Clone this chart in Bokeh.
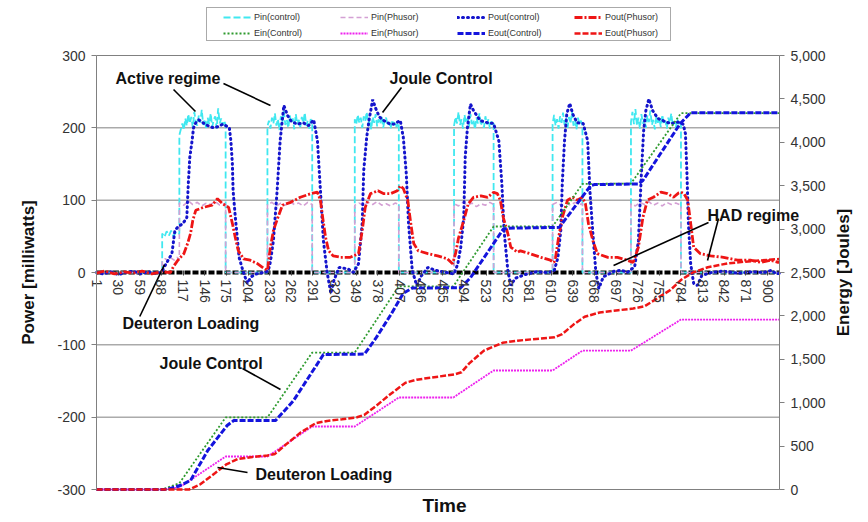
import math
from bokeh.plotting import figure
from bokeh.models import (Range1d, LinearAxis, FixedTicker, NumeralTickFormatter,
                          Legend, LegendItem, Label)
from bokeh.embed import file_html
from bokeh.resources import INLINE

FONT = "Liberation Sans"

# ---------------- data ----------------
x_ticks = [1, 30, 59, 88, 117, 146, 175, 204, 233, 262, 291, 320, 349, 378, 407, 436,
           465, 494, 523, 552, 581, 610, 639, 668, 697, 726, 755, 784, 813, 842, 871, 900]
power_ticks = [-300, -200, -100, 0, 100, 200, 300]
energy_ticks = [0, 500, 1000, 1500, 2000, 2500, 3000, 3500, 4000, 4500, 5000]
time_span = (1, 916)
power_span = (-300, 300)
energy_span = (0, 5000)

# Pin(control) [mW] (time, value)
pin_control = [
    (1, 0), (89, 0), (89, 54), (92, 49), (95, 57), (98, 51), (101, 58), (104, 50), (107, 55), (110, 52), (112, 54),
    (112, 190), (114, 198), (116, 206), (118, 197), (120, 213), (122, 203), (124, 219), (126, 206), (128, 215),
    (130, 200), (132, 222), (134, 208), (136, 203), (138, 217), (140, 207), (142, 225), (144, 204), (146, 212),
    (148, 198), (150, 214), (152, 205), (154, 220), (156, 201), (158, 211), (160, 216), (162, 199), (164, 227),
    (166, 206), (168, 213), (170, 203), (172, 210), (174, 204), (174, 0),
    (230, 0), (230, 202), (232, 210), (234, 199), (236, 214), (238, 206), (240, 220), (242, 203), (244, 212),
    (246, 197), (248, 216), (250, 208), (252, 223), (254, 204), (256, 211), (258, 200), (260, 217), (262, 206),
    (264, 213), (266, 198), (268, 219), (270, 205), (272, 211), (274, 201), (276, 215), (278, 207), (280, 221),
    (282, 203), (284, 210), (286, 199), (288, 212), (290, 206), (290, 0),
    (347, 0), (347, 212), (349, 205), (351, 218), (353, 207), (355, 214), (357, 200), (359, 216), (361, 209),
    (363, 222), (365, 204), (367, 211), (369, 198), (371, 215), (373, 207), (375, 219), (377, 202), (379, 212),
    (381, 205), (383, 217), (385, 200), (387, 210), (389, 214), (391, 203), (393, 208), (395, 199), (397, 211),
    (399, 204), (401, 209), (403, 201), (405, 207), (406, 203), (406, 0),
    (480, 0), (480, 203), (482, 215), (484, 206), (486, 222), (488, 204), (490, 212), (492, 199), (494, 218),
    (496, 207), (498, 213), (500, 201), (502, 219), (504, 205), (506, 211), (508, 198), (510, 214), (512, 206),
    (514, 220), (516, 203), (518, 210), (520, 200), (522, 216), (524, 205), (526, 212), (528, 199), (530, 209),
    (532, 204), (533, 207), (533, 0),
    (612, 0), (612, 205), (614, 218), (616, 203), (618, 212), (620, 199), (622, 216), (624, 207), (626, 221),
    (628, 204), (630, 213), (632, 200), (634, 215), (636, 206), (638, 222), (640, 203), (642, 211), (644, 198),
    (646, 214), (648, 205), (650, 210), (652, 202), (652, 0),
    (717, 0), (717, 208), (719, 222), (721, 205), (723, 226), (725, 203), (727, 214), (729, 199), (731, 219),
    (733, 206), (735, 212), (737, 200), (739, 217), (741, 208), (743, 224), (745, 204), (747, 211), (749, 198),
    (751, 215), (753, 207), (755, 213), (757, 201), (759, 218), (761, 205), (763, 210), (765, 199), (767, 214),
    (769, 206), (771, 220), (773, 203), (775, 209), (777, 200), (779, 212), (781, 205), (783, 210), (784, 204),
    (784, 0), (916, 0)]

# Pin(Phusor) [mW]
pin_phusor = [
    (1, 0), (89, 0), (89, 15), (93, 19), (97, 16), (101, 20), (105, 17), (109, 21), (112, 18),
    (112, 96), (118, 93), (124, 99), (130, 94), (136, 97), (142, 92), (148, 96), (154, 94), (160, 98),
    (166, 93), (172, 95), (174, 94), (174, 0),
    (230, 0), (230, 94), (236, 97), (242, 92), (248, 96), (254, 93), (260, 98), (266, 94), (272, 96),
    (278, 92), (284, 97), (290, 94), (290, 0),
    (347, 0), (347, 93), (353, 96), (359, 92), (365, 97), (371, 94), (377, 98), (383, 93), (389, 95),
    (395, 92), (401, 96), (406, 94), (406, 0),
    (480, 0), (480, 95), (486, 92), (492, 97), (498, 93), (504, 96), (510, 91), (516, 95), (522, 93),
    (528, 97), (533, 94), (533, 0),
    (612, 0), (612, 94), (618, 97), (624, 92), (630, 96), (636, 93), (642, 97), (648, 94), (652, 95), (652, 0),
    (717, 0), (717, 95), (723, 92), (729, 97), (735, 94), (741, 98), (747, 93), (753, 96), (759, 92),
    (765, 97), (771, 94), (777, 96), (784, 93), (784, 0), (916, 0)]

# Pout(control) [mW]
pout_control = [
    (1, 0), (10, -2), (20, 1), (30, -3), (40, 0), (50, 2), (60, -2), (70, 1), (80, -1), (88, 0), (92, 8),
    (97, 17), (102, 26), (106, 58), (110, 63), (113, 65), (117, 68), (122, 76), (124, 123), (126, 159),
    (129, 182), (131, 200), (134, 207), (138, 211), (145, 206), (152, 202), (158, 200), (165, 202), (170, 205),
    (174, 203), (179, 200), (181, 182), (183, 151), (184, 113), (187, 76), (190, 44), (192, 21), (197, 3),
    (203, -15), (208, -6), (215, -2), (225, 0), (231, 2), (234, 15), (238, 44), (243, 113), (247, 182),
    (252, 231), (257, 217), (262, 209), (270, 205), (278, 207), (285, 203), (292, 211), (297, 182), (301, 113),
    (305, 44), (310, 0), (315, -29), (319, -11), (326, 7), (338, 5), (345, 0), (352, 12), (357, 68), (359, 141),
    (363, 187), (366, 210), (371, 239), (375, 227), (380, 215), (386, 210), (393, 206), (399, 205), (408, 210),
    (412, 187), (416, 137), (419, 68), (424, 3), (430, -18), (436, -5), (445, 7), (455, 3), (470, 0), (480, -2),
    (485, 12), (489, 35), (493, 76), (495, 160), (498, 201), (502, 233), (506, 224), (515, 210), (525, 207),
    (533, 206), (540, 182), (544, 123), (547, 58), (552, 3), (556, -18), (562, -8), (575, -3), (590, 1),
    (605, 0), (614, 2), (619, 20), (623, 58), (625, 123), (628, 182), (631, 219), (635, 234), (639, 219),
    (645, 207), (653, 206), (659, 182), (662, 113), (666, 54), (670, 0), (674, -22), (680, -6), (695, 2),
    (705, 3), (712, 0), (722, 8), (727, 44), (731, 137), (734, 196), (737, 224), (741, 240), (746, 224),
    (753, 213), (762, 209), (770, 206), (780, 208), (787, 205), (790, 192), (792, 137), (794, 68), (797, 12),
    (801, -15), (806, -18), (812, -4), (825, 0), (840, 2), (860, -1), (880, 1), (895, 0), (905, 3), (912, -2),
    (916, -1)]

# Pout(Phusor) [mW]
pout_phusor = [
    (1, -1), (12, 2), (25, -2), (38, 1), (50, -1), (62, 2), (75, -2), (88, 1), (100, 0), (104, 8), (110, 17),
    (118, 26), (123, 40), (127, 54), (130, 72), (134, 86), (144, 90), (156, 93), (163, 102), (170, 95),
    (178, 90), (183, 68), (187, 48), (191, 30), (198, 19), (207, 17), (217, 12), (225, 6), (230, 3), (234, 35),
    (238, 58), (244, 76), (250, 93), (261, 97), (274, 104), (288, 109), (297, 111), (301, 100), (304, 76),
    (308, 48), (312, 30), (318, 23), (328, 21), (341, 21), (352, 26), (357, 58), (361, 90), (368, 109),
    (378, 113), (386, 109), (395, 109), (404, 113), (408, 120), (412, 116), (418, 100), (422, 68), (426, 40),
    (432, 30), (445, 26), (458, 23), (471, 19), (478, 12), (482, 26), (486, 48), (493, 72), (499, 95),
    (506, 104), (516, 106), (525, 104), (533, 111), (538, 109), (542, 100), (546, 76), (552, 54), (556, 35),
    (565, 28), (569, 30), (582, 26), (596, 21), (609, 17), (614, 14), (616, 21), (620, 48), (625, 76),
    (632, 100), (639, 104), (645, 100), (652, 104), (656, 95), (660, 68), (666, 44), (672, 26), (686, 21),
    (699, 21), (712, 17), (720, 14), (727, 35), (733, 76), (739, 100), (747, 104), (757, 111), (766, 109),
    (774, 104), (781, 110), (784, 111), (788, 109), (793, 100), (797, 68), (801, 35), (810, 26), (824, 23),
    (841, 21), (860, 17), (877, 17), (891, 14), (904, 17), (914, 14), (916, 15)]

# Energies [J]
ein_control = [(1, 0), (89, 0), (100, 35), (112, 72), (174, 830), (230, 830), (290, 1578), (347, 1578),
               (406, 2340), (479, 2340), (533, 3030), (612, 3030), (652, 3520), (717, 3525), (784, 4335),
               (916, 4335)]
ein_phusor = [(1, 0), (89, 0), (112, 24), (174, 380), (230, 380), (290, 726), (347, 726), (406, 1060),
              (479, 1060), (533, 1371), (612, 1371), (652, 1600), (717, 1600), (784, 1958), (916, 1958)]
eout_control = [(1, 0), (92, 0), (100, 12), (113, 46), (127, 104), (150, 449), (176, 737), (185, 795),
                (241, 795), (265, 1025), (305, 1555), (360, 1560), (375, 1740), (395, 2010), (412, 2260),
                (424, 2320), (489, 2325), (502, 2440), (546, 3000), (552, 3010), (621, 3020), (663, 3500),
                (668, 3513), (727, 3520), (733, 3560), (783, 4216), (797, 4340), (916, 4340)]
eout_phusor = [(1, 0), (125, 0), (140, 60), (160, 190), (175, 290), (190, 350), (210, 375), (230, 392),
               (240, 410), (255, 520), (275, 660), (295, 765), (310, 790), (330, 810), (350, 832), (360, 860),
               (375, 960), (395, 1100), (415, 1230), (430, 1265), (450, 1290), (480, 1325), (490, 1350),
               (500, 1450), (520, 1600), (545, 1690), (565, 1715), (590, 1735), (615, 1755), (625, 1790),
               (640, 1900), (655, 1990), (675, 2040), (700, 2065), (720, 2085), (735, 2110), (750, 2190),
               (770, 2300), (785, 2420), (800, 2500), (820, 2560), (846, 2604), (870, 2625), (900, 2645),
               (916, 2655)]

# annotations: (text, x, y) and leader lines (x0, y0, x1, y1), data coordinates (time, mW)
notes = [("Active regime", 26.5, 268), ("Joule Control", 393.5, 268), ("HAD regime", 819.6, 79),
         ("Deuteron Loading", 35.8, -70.5), ("Joule Control", 85.4, -126), ("Deuteron Loading", 214, -279.3)]
leaders = [(104.2, 253, 133.6, 222.6), (171.1, 261.3, 234.1, 230.9), (409.6, 255.8, 384.2, 221.2),
           (820.9, 69.1, 693.7, 9.7), (834.3, 74.6, 819.6, 16.6), (92.1, 11, 59.0, -60.8),
           (196.6, -132.7, 247.5, -161.8), (203.3, -276.5, 163.1, -269.6)]


def xs(s):
    return [a for a, _ in s]


def ys(s):
    return [b for _, b in s]


# ---------------- layout (pixels) ----------------
W, H = 864, 519
PL, PR, PT, PB = 96, 779, 55, 489          # plot area edges in pixels
tpp = (time_span[1] - time_span[0]) / (PR - PL)         # time units per px
mpp = (power_span[1] - power_span[0]) / (PB - PT)       # mW per px
jpp = (energy_span[1] - energy_span[0]) / (PB - PT)     # J per px

x_rng = Range1d(time_span[0] - PL * tpp, time_span[1] + (W - PR) * tpp)
y_rng = Range1d(power_span[0] - (H - PB) * mpp, power_span[1] + PT * mpp)
e_rng = Range1d(energy_span[0] - (H - PB) * jpp, energy_span[1] + PT * jpp)


def px_t(px):
    return x_rng.start + px * tpp


def py_mw(py):
    return y_rng.end - py * mpp


p = figure(width=W, height=H, output_backend="svg", toolbar_location=None,
           x_range=x_rng, y_range=y_rng,
           min_border_left=0, min_border_right=0, min_border_top=0, min_border_bottom=0)
p.extra_y_ranges = {"energy": e_rng}
p.background_fill_color = "white"
p.border_fill_color = "white"
p.outline_line_color = None
p.xgrid.visible = False
p.ygrid.visible = False

# horizontal grid lines at the power ticks (0 is drawn as the heavy dashed base line)
grid_y = [v for v in power_ticks if v != 0]
p.segment(x0=[time_span[0]] * len(grid_y), x1=[time_span[1]] * len(grid_y), y0=grid_y, y1=grid_y,
          line_color="#808080", line_width=1)

# x axis sitting on 0
xax = p.below[0]
xax.fixed_location = 0
xax.bounds = time_span
xax.ticker = FixedTicker(ticks=x_ticks)
xax.major_label_orientation = -math.pi / 2
xax.axis_line_color = None
xax.major_tick_line_color = "#444444"
xax.major_tick_in = 2
xax.major_tick_out = 3
xax.minor_tick_line_color = None
xax.major_label_standoff = 4
xax.major_label_text_font = FONT
xax.major_label_text_font_size = "14px"
xax.major_label_text_color = "#333333"

yax = p.left[0]
yax.fixed_location = time_span[0]
yax.bounds = power_span
yax.ticker = FixedTicker(ticks=power_ticks)
yax.formatter = NumeralTickFormatter(format="0")
yax.axis_line_color = "#808080"
yax.major_tick_line_color = "#808080"
yax.major_tick_in = 0
yax.major_tick_out = 5
yax.minor_tick_line_color = None
yax.major_label_standoff = 6
yax.major_label_text_font = FONT
yax.major_label_text_font_size = "14px"
yax.major_label_text_color = "#333333"

rax = LinearAxis(y_range_name="energy", ticker=FixedTicker(ticks=energy_ticks),
                 formatter=NumeralTickFormatter(format="0,0"))
rax.fixed_location = time_span[1]
rax.bounds = energy_span
rax.axis_line_color = "#808080"
rax.major_tick_line_color = "#808080"
rax.major_tick_in = 0
rax.major_tick_out = 5
rax.minor_tick_line_color = None
rax.major_label_standoff = 6
rax.major_label_text_font = FONT
rax.major_label_text_font_size = "14px"
rax.major_label_text_color = "#333333"
p.add_layout(rax, "right")

# axis titles
title_style = dict(text_font=FONT, text_font_style="bold", text_color="#111111",
                   text_align="center", text_baseline="middle")
p.add_layout(Label(x=px_t(28), y=0, text="Power [milliwatts]", angle=math.pi / 2,
                   text_font_size="17px", **title_style))
p.add_layout(Label(x=px_t(843), y=0, text="Energy [Joules]", angle=math.pi / 2,
                   text_font_size="17px", **title_style))
p.add_layout(Label(x=px_t(444), y=py_mw(505), text="Time", text_font_size="19px", **title_style))

# ---------------- series ----------------
p.line(list(time_span), [0, 0], line_color="black", line_width=4, line_dash="6 2")

r_pin_c = p.line(xs(pin_control), ys(pin_control), line_color="#40E8F0", line_width=1.8, line_dash="7 3")
r_pin_p = p.line(xs(pin_phusor), ys(pin_phusor), line_color="#D4A0D4", line_width=1.6, line_dash="5 3")
r_pout_c = p.line(xs(pout_control), ys(pout_control), line_color="#1414CC", line_width=3,
                  line_dash="1 4", line_cap="round")
r_pout_p = p.line(xs(pout_phusor), ys(pout_phusor), line_color="#EE1515", line_width=2.8,
                  line_dash="8 2 2 2")
r_ein_c = p.line(xs(ein_control), ys(ein_control), y_range_name="energy", line_color="#2E9A2E",
                 line_width=1.8, line_dash="2 2")
r_ein_p = p.line(xs(ein_phusor), ys(ein_phusor), y_range_name="energy", line_color="#EE22EE",
                 line_width=1.8, line_dash="2 1")
r_eout_c = p.line(xs(eout_control), ys(eout_control), y_range_name="energy", line_color="#1414DD",
                  line_width=3, line_dash="6 2")
r_eout_p = p.line(xs(eout_phusor), ys(eout_phusor), y_range_name="energy", line_color="#EE1515",
                  line_width=2.5, line_dash="6 2")

# ---------------- annotations ----------------
p.segment(x0=[l[0] for l in leaders], y0=[l[1] for l in leaders],
          x1=[l[2] for l in leaders], y1=[l[3] for l in leaders], line_color="black", line_width=1.6)
for txt, tx, ty in notes:
    p.add_layout(Label(x=tx, y=ty, text=txt, text_font=FONT, text_font_size="16px",
                       text_font_style="bold", text_color="#111111", text_baseline="middle",
                       text_align="left"))

# ---------------- legend ----------------
dummy = p.line([time_span[0]], [0], line_alpha=0)
box = Legend(items=[LegendItem(label=" ", renderers=[dummy])], location=(206, H - 41),
             glyph_width=455, glyph_height=24, label_standoff=0, label_width=0, label_height=24,
             padding=4, border_line_color="#555555", border_line_width=1,
             background_fill_color="white", background_fill_alpha=1,
             label_text_font_size="9px")
p.add_layout(box, "center")

items = [LegendItem(label="Pin(control)", renderers=[r_pin_c]),
         LegendItem(label="Pin(Phusor)", renderers=[r_pin_p]),
         LegendItem(label="Pout(control)", renderers=[r_pout_c]),
         LegendItem(label="Pout(Phusor)", renderers=[r_pout_p]),
         LegendItem(label="Ein(Control)", renderers=[r_ein_c]),
         LegendItem(label="Ein(Phusor)", renderers=[r_ein_p]),
         LegendItem(label="Eout(Control)", renderers=[r_eout_c]),
         LegendItem(label="Eout(Phusor)", renderers=[r_eout_p])]
leg = Legend(items=items, location=(223, H - 40), orientation="horizontal", ncols=4,
             glyph_width=28, glyph_height=14, label_height=14, label_width=84, label_standoff=3,
             spacing=2, padding=0, border_line_color=None, background_fill_alpha=0,
             label_text_font=FONT, label_text_font_size="9px", label_text_color="#333333")
p.add_layout(leg, "center")

open("out.html", "w").write(file_html(p, INLINE))
